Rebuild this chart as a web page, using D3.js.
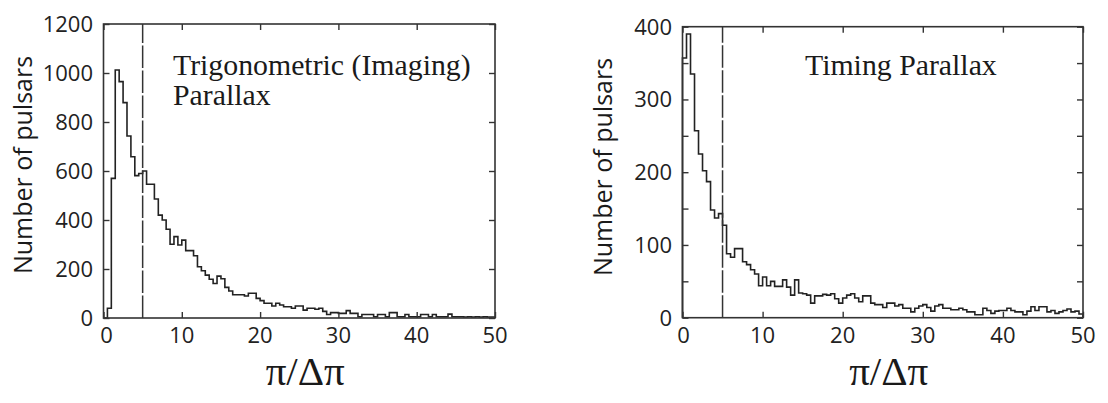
<!DOCTYPE html>
<html>
<head>
<meta charset="utf-8">
<script src="https://cdn.jsdelivr.net/npm/d3@7"></script>
<style>
  html, body { margin: 0; padding: 0; background: #fff; }
  svg { display: block; }
</style>
</head>
<body>
<svg id="chart" width="1108" height="403"></svg>
<script>
// ---- data ----
const binWidth = 0.5;
const xTicks = [0, 10, 20, 30, 40, 50];
const trigYTicks = [0, 200, 400, 600, 800, 1000, 1200];
const timingYTicks = [0, 100, 200, 300, 400];
const timingYMinor = [50, 150, 250, 350];
const cutValue = 5;

const trigCounts = [
  0, 40, 570, 1012, 965, 879, 743, 658, 581, 590,
  600, 546, 546, 486, 420, 400, 362, 301, 332, 298,
  318, 275, 275, 254, 209, 193, 175, 158, 141, 171,
  160, 125, 110, 95, 95, 95, 90, 101, 101, 80,
  71, 60, 60, 49, 60, 53, 46, 46, 40, 49,
  49, 32, 40, 40, 36, 40, 27, 14, 22, 22,
  19, 19, 30, 19, 19, 5, 14, 14, 14, 5,
  14, 14, 5, 22, 22, 5, 5, 14, 5, 5,
  5, 14, 14, 5, 14, 5, 5, 5, 16, 5,
  5, 5, 4, 5, 4, 5, 4, 5, 4, 4
];

const timingCounts = [
  357, 390, 335, 257, 225, 202, 187, 148, 137, 143,
  127, 88, 83, 95, 95, 77, 73, 66, 60, 44,
  56, 44, 50, 43, 43, 52, 42, 31, 52, 34,
  33, 31, 20, 30, 30, 32, 31, 33, 26, 20,
  27, 31, 33, 27, 22, 30, 30, 20, 18, 18,
  14, 20, 20, 16, 18, 13, 13, 8, 13, 16,
  18, 14, 9, 16, 18, 13, 13, 11, 11, 13,
  11, 8, 8, 4, 4, 13, 10, 6, 9, 10,
  10, 13, 10, 8, 8, 4, 9, 15, 10, 15,
  15, 8, 10, 6, 8, 10, 12, 8, 9, 5
];

// ---- drawing ----
const svg = d3.select("#chart");
const ink = "#222";
const tickFont = "'Open Sans', 'Noto Sans', sans-serif";
const serif = "'Liberation Serif', 'DejaVu Serif', serif";

function panel(cfg) {
  const g = svg.append("g");
  const x = d3.scaleLinear().domain([0, 50]).range([cfg.left, cfg.right]);
  const y = d3.scaleLinear().domain([0, cfg.ymax]).range([cfg.bottom, cfg.top]);
  const tl = 6;

  // histogram outline
  const pts = [[0, 0]];
  cfg.counts.forEach((v, k) => {
    pts.push([k * binWidth, v]);
    pts.push([(k + 1) * binWidth, v]);
  });
  pts.push([50, 0]);
  const line = d3.line().x(d => x(d[0])).y(d => y(d[1]));
  g.append("path")
    .attr("d", line(pts))
    .attr("fill", "none")
    .attr("stroke", "#222")
    .attr("stroke-width", 1.6)
    .attr("stroke-linejoin", "miter");

  // dashed cut line
  g.append("line")
    .attr("x1", x(cutValue)).attr("x2", x(cutValue))
    .attr("y1", cfg.bottom).attr("y2", cfg.top)
    .attr("stroke", "#333")
    .attr("stroke-width", 1.5)
    .attr("stroke-dasharray", "22.5,2.5");

  // frame
  g.append("rect")
    .attr("x", cfg.left).attr("y", cfg.top)
    .attr("width", cfg.right - cfg.left)
    .attr("height", cfg.bottom - cfg.top)
    .attr("fill", "none")
    .attr("stroke", "#333")
    .attr("stroke-width", 1.6);

  // axes with inward ticks
  const axB = d3.axisBottom(x).tickValues(xTicks).tickSize(-tl).tickFormat("");
  const axT = d3.axisTop(x).tickValues(xTicks).tickSize(-tl).tickFormat("");
  const yAll = cfg.yTicks.concat(cfg.yMinor || []);
  const axL = d3.axisLeft(y).tickValues(yAll).tickSize(-tl).tickFormat("");
  const axR = d3.axisRight(y).tickValues(yAll).tickSize(-tl).tickFormat("");
  [[axB, `translate(0,${cfg.bottom})`], [axT, `translate(0,${cfg.top})`],
   [axL, `translate(${cfg.left},0)`], [axR, `translate(${cfg.right},0)`]].forEach(([ax, tr]) => {
    const a = g.append("g").attr("transform", tr).call(ax);
    a.select(".domain").remove();
    a.selectAll("line").attr("stroke", "#333").attr("stroke-width", 1.4);
  });

  // y tick labels
  g.selectAll(".ylab").data(cfg.yTicks).enter().append("text")
    .attr("x", cfg.left - 10.5)
    .attr("y", d => y(d))
    .attr("dy", "0.36em")
    .attr("text-anchor", "end")
    .attr("font-family", tickFont)
    .attr("font-size", 22)
    .attr("fill", ink)
    .text(d => d);

  // x tick labels
  g.selectAll(".xlab").data(xTicks).enter().append("text")
    .attr("x", d => x(d) + (d === 0 ? cfg.zeroShift : 0))
    .attr("y", 343)
    .attr("text-anchor", "middle")
    .attr("font-family", tickFont)
    .attr("font-size", 22)
    .attr("fill", ink)
    .text(d => d);

  // y axis title
  g.append("text")
    .attr("transform", `translate(${cfg.ytitleX},${cfg.ytitleY}) rotate(-90)`)
    .attr("text-anchor", "middle")
    .attr("font-family", tickFont)
    .attr("font-size", 25)
    .attr("fill", "#1a1a1a")
    .text("Number of pulsars");

  // x axis title
  g.append("text")
    .attr("x", (cfg.left + cfg.right) / 2 + 6)
    .attr("y", 385)
    .attr("text-anchor", "middle")
    .attr("font-family", serif)
    .attr("font-size", 41)
    .attr("fill", "#1a1a1a")
    .text("π/Δπ");

  // annotation
  cfg.note.forEach((t, i) => {
    g.append("text")
      .attr("x", cfg.noteX)
      .attr("y", 75 + i * 30)
      .attr("font-family", serif)
      .attr("font-size", 29.8)
      .attr("fill", "#1a1a1a")
      .text(t);
  });
}

panel({
  left: 103.5, right: 495, top: 24, bottom: 318, ymax: 1200,
  counts: trigCounts, yTicks: trigYTicks, yMinor: [],
  ytitleX: 32, ytitleY: 165, zeroShift: 3,
  note: ["Trigonometric (Imaging)", "Parallax"], noteX: 173
});

panel({
  left: 682.5, right: 1083, top: 26.7, bottom: 317.7, ymax: 400,
  counts: timingCounts, yTicks: timingYTicks, yMinor: timingYMinor,
  ytitleX: 612, ytitleY: 167, zeroShift: 1,
  note: ["Timing Parallax"], noteX: 805
});
</script>
</body>
</html>
